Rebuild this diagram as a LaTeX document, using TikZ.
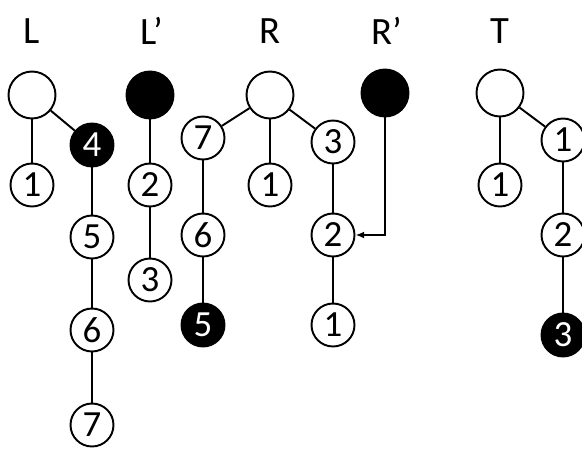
\documentclass[tikz,border=0pt]{standalone}
\usepackage{fontspec}
\setmainfont{Carlito}
\usetikzlibrary{arrows.meta}
\begin{document}
\begin{tikzpicture}[x=0.02cm,y=-0.02cm,line width=1.1pt,
  wn/.style={circle,draw,fill=white,minimum size=0.86cm,inner sep=0pt,font=\fontsize{21}{24}\selectfont},
  bn/.style={wn,fill=black,text=white},
  rt/.style={minimum size=0.94cm},
  lab/.style={font=\fontsize{22}{26}\selectfont}]
\useasboundingbox (0,0) rectangle (582,450);
\node[lab] (tL) at (32,31) {L};
\node[lab] (tLp) at (152,31) {L’};
\node[lab] (tR) at (270,31) {R};
\node[lab] (tRp) at (387,31) {R’};
\node[lab] (tT) at (500,31) {T};
% L
\node[wn,rt] (L0) at (32,95) {};
\node[wn] (L1) at (32,185) {1};
\node[bn] (L4) at (92,145) {4};
\node[wn] (L5) at (92,237) {5};
\node[wn] (L6) at (92,330) {6};
\node[wn] (L7) at (92,425) {7};
\draw (L0) -- (L1);
\draw (L0) -- (L4);
\draw (L4) -- (L5);
\draw (L5) -- (L6);
\draw (L6) -- (L7);
% L'
\node[bn,rt] (Lp0) at (150,95) {};
\node[wn] (Lp2) at (150,185) {2};
\node[wn] (Lp3) at (150,280) {3};
\draw (Lp0) -- (Lp2);
\draw (Lp2) -- (Lp3);
% R
\node[wn,rt] (R0) at (270,95) {};
\node[wn] (R7) at (203,138) {7};
\node[wn] (R1) at (270,185) {1};
\node[wn] (R3) at (333,142) {3};
\node[wn] (R6) at (203,235) {6};
\node[bn] (R5) at (203,325) {5};
\node[wn] (R2) at (333,235) {2};
\node[wn] (R1b) at (333,325) {1};
\draw (R0) -- (R7);
\draw (R0) -- (R1);
\draw (R0) -- (R3);
\draw (R7) -- (R6);
\draw (R6) -- (R5);
\draw (R3) -- (R2);
\draw (R2) -- (R1b);
% R'
\node[bn,rt] (Rp0) at (385,93) {};
\draw[-{Latex[length=5pt,width=4pt]}] (Rp0) |- (R2);
% T
\node[wn,rt] (T0) at (500,93) {};
\node[wn] (T1) at (500,185) {1};
\node[wn] (T1b) at (563,140) {1};
\node[wn] (T2) at (563,235) {2};
\node[bn] (T3) at (563,335) {3};
\draw (T0) -- (T1);
\draw (T0) -- (T1b);
\draw (T1b) -- (T2);
\draw (T2) -- (T3);
\end{tikzpicture}
\end{document}
